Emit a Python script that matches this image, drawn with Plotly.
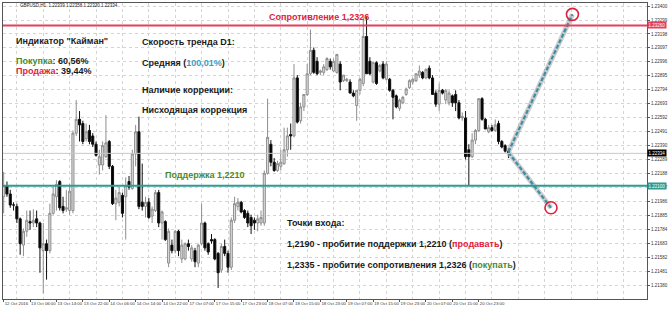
import plotly.graph_objects as go

# ---------------- data ----------------
opens = [1.2202,1.2210,1.2204,1.2196,1.2195,1.2186,1.2167,1.2177,1.2184,1.2183,
         1.2186,1.2183,1.2163,1.2168,1.2163,1.2190,1.2202,1.2213,1.2195,1.2193,
         1.2192,1.2192,1.2248,1.2258,1.2255,1.2244,1.2250,1.2246,1.2240,1.2225,
         1.2225,1.2231,1.2242,1.2224,1.2197,1.2198,1.2203,1.2202,1.2213,1.2208,
         1.2233,1.2249,1.2198,1.2195,1.2198,1.2188,1.2192,1.2205,1.2183,1.2184,
         1.2154,1.2167,1.2163,1.2177,1.2157,1.2157,1.2168,1.2157,1.2163,1.2154,
         1.2168,1.2183,1.2168,1.2171,1.2171,1.2161,1.2149,1.2166,1.2161,1.2151,
         1.2185,1.2195,1.2198,1.2192,1.2190,1.2187,1.2185,1.2183,1.2183,1.2183,
         1.2219,1.2240,1.2227,1.2221,1.2224,1.2226,1.2236,1.2247,1.2246,1.2288,
         1.2257,1.2267,1.2276,1.2291,1.2308,1.2300,1.2292,1.2292,1.2294,1.2300,
         1.2293,1.2292,1.2298,1.2286,1.2286,1.2285,1.2277,1.2268,1.2279,1.2284,
         1.2318,1.2300,1.2285,1.2299,1.2293,1.2298,1.2287,1.2287,1.2279,1.2275,
         1.2266,1.2270,1.2276,1.2281,1.2285,1.2286,1.2290,1.2292,1.2288,1.2295,
         1.2288,1.2277,1.2269,1.2279,1.2272,1.2270,1.2275,1.2276,1.2270,1.2259,
         1.2259,1.2236,1.2231,1.2243,1.2250,1.2273,1.2258,1.2249,1.2252,1.2250,
         1.2255,1.2242,1.2239,1.2235]
highs = [1.2220,1.2213,1.2207,1.2198,1.2197,1.2187,1.2179,1.2192,1.2192,1.2193,
         1.2192,1.2184,1.2183,1.2171,1.2197,1.2209,1.2214,1.2214,1.2202,1.2207,
         1.2211,1.2250,1.2272,1.2264,1.2257,1.2255,1.2254,1.2248,1.2242,1.2236,
         1.2242,1.2261,1.2243,1.2225,1.2207,1.2209,1.2205,1.2216,1.2217,1.2236,
         1.2254,1.2260,1.2226,1.2202,1.2201,1.2195,1.2207,1.2207,1.2192,1.2185,
         1.2179,1.2171,1.2178,1.2178,1.2171,1.2169,1.2171,1.2167,1.2165,1.2168,
         1.2197,1.2184,1.2169,1.2175,1.2172,1.2162,1.2168,1.2171,1.2163,1.2187,
         1.2202,1.2201,1.2199,1.2193,1.2192,1.2189,1.2187,1.2189,1.2192,1.2221,
         1.2273,1.2243,1.2230,1.2228,1.2236,1.2252,1.2252,1.2255,1.2298,1.2290,
         1.2270,1.2276,1.2298,1.2323,1.2310,1.2303,1.2294,1.2298,1.2303,1.2302,
         1.2302,1.2305,1.2300,1.2290,1.2288,1.2287,1.2279,1.2279,1.2288,1.2332,
         1.2332,1.2303,1.2300,1.2300,1.2298,1.2300,1.2300,1.2288,1.2280,1.2276,
         1.2273,1.2275,1.2281,1.2287,1.2288,1.2291,1.2297,1.2293,1.2295,1.2297,
         1.2290,1.2279,1.2284,1.2280,1.2280,1.2279,1.2276,1.2279,1.2272,1.2263,
         1.2264,1.2240,1.2248,1.2251,1.2273,1.2274,1.2259,1.2254,1.2254,1.2258,
         1.2257,1.2243,1.2240,1.2237]
lows = [1.2190,1.2202,1.2194,1.2192,1.2183,1.2160,1.2159,1.2173,1.2178,1.2180,
        1.2180,1.2147,1.2132,1.2142,1.2161,1.2189,1.2192,1.2192,1.2190,1.2191,
        1.2189,1.2190,1.2246,1.2242,1.2240,1.2242,1.2240,1.2238,1.2231,1.2218,
        1.2221,1.2230,1.2222,1.2196,1.2185,1.2195,1.2187,1.2171,1.2207,1.2207,
        1.2224,1.2193,1.2192,1.2187,1.2186,1.2183,1.2191,1.2180,1.2171,1.2170,
        1.2151,1.2161,1.2161,1.2159,1.2154,1.2156,1.2163,1.2155,1.2151,1.2151,
        1.2167,1.2163,1.2160,1.2168,1.2156,1.2136,1.2147,1.2159,1.2147,1.2149,
        1.2183,1.2192,1.2190,1.2186,1.2180,1.2175,1.2178,1.2177,1.2181,1.2181,
        1.2218,1.2224,1.2220,1.2220,1.2221,1.2225,1.2231,1.2236,1.2245,1.2255,
        1.2255,1.2264,1.2275,1.2290,1.2291,1.2290,1.2290,1.2290,1.2293,1.2294,
        1.2292,1.2291,1.2279,1.2285,1.2285,1.2277,1.2274,1.2257,1.2276,1.2282,
        1.2291,1.2290,1.2284,1.2283,1.2292,1.2287,1.2286,1.2278,1.2258,1.2266,
        1.2264,1.2269,1.2275,1.2280,1.2283,1.2285,1.2288,1.2287,1.2287,1.2287,
        1.2276,1.2267,1.2264,1.2276,1.2269,1.2268,1.2267,1.2264,1.2258,1.2257,
        1.2229,1.2210,1.2230,1.2240,1.2249,1.2257,1.2251,1.2248,1.2249,1.2249,
        1.2240,1.2237,1.2234,1.2230]
closes = [1.2210,1.2204,1.2196,1.2196,1.2186,1.2168,1.2177,1.2185,1.2183,1.2185,
          1.2183,1.2165,1.2168,1.2163,1.2190,1.2204,1.2211,1.2194,1.2192,1.2194,
          1.2206,1.2248,1.2258,1.2254,1.2242,1.2249,1.2242,1.2240,1.2232,1.2231,
          1.2239,1.2241,1.2224,1.2197,1.2201,1.2205,1.2190,1.2210,1.2209,1.2233,
          1.2249,1.2195,1.2195,1.2198,1.2187,1.2193,1.2205,1.2183,1.2191,1.2171,
          1.2177,1.2163,1.2177,1.2163,1.2167,1.2168,1.2166,1.2165,1.2155,1.2167,
          1.2183,1.2165,1.2162,1.2170,1.2157,1.2147,1.2166,1.2161,1.2151,1.2185,
          1.2197,1.2198,1.2191,1.2187,1.2183,1.2181,1.2183,1.2186,1.2187,1.2219,
          1.2245,1.2227,1.2221,1.2226,1.2227,1.2236,1.2246,1.2246,1.2288,1.2256,
          1.2267,1.2276,1.2291,1.2308,1.2292,1.2291,1.2293,1.2296,1.2302,1.2296,
          1.2300,1.2305,1.2285,1.2290,1.2287,1.2277,1.2275,1.2279,1.2287,1.2318,
          1.2291,1.2291,1.2299,1.2284,1.2297,1.2288,1.2298,1.2279,1.2274,1.2267,
          1.2272,1.2274,1.2280,1.2286,1.2287,1.2291,1.2293,1.2288,1.2294,1.2288,
          1.2276,1.2269,1.2279,1.2277,1.2279,1.2277,1.2270,1.2270,1.2259,1.2260,
          1.2231,1.2231,1.2243,1.2250,1.2273,1.2258,1.2251,1.2252,1.2250,1.2254,
          1.2242,1.2238,1.2235,1.2234]

time_labels = ["12 Oct 2016", "13 Oct 06:00", "13 Oct 14:00", "13 Oct 22:00",
               "14 Oct 06:00", "14 Oct 14:00", "14 Oct 22:00", "17 Oct 07:00",
               "17 Oct 15:00", "17 Oct 23:00", "18 Oct 07:00", "18 Oct 15:00",
               "18 Oct 23:00", "19 Oct 07:00", "19 Oct 15:00", "19 Oct 23:00",
               "20 Oct 07:00", "20 Oct 15:00", "20 Oct 23:00"]
bars_per_label = 8

price_labels = ["1.23400", "1.23299", "1.23198", "1.23097", "1.22996", "1.22895",
                "1.22794", "1.22693", "1.22592", "1.22491", "1.22390", "1.22289",
                "1.22188", "1.22087", "1.21986", "1.21885", "1.21784", "1.21683",
                "1.21582", "1.21481", "1.21380"]

resistance = 1.2326
support = 1.2210
last_price = 1.22334
target_up = 1.2334
target_down = 1.2194
target_up_bar = 172.4
target_down_bar = 165.9

header = "GBPUSD,H1  1.22339 1.22358 1.22320 1.22334"

# ---------------- figure ----------------
W, H = 670, 310
L, R, T, B = 2, 18, 2, 11
PW, PH = W - L - R, H - T - B

def px(xp):
    return (xp - L) / PW

def py(yp):
    return (H - B - yp) / PH

n = len(opens)
bars = list(range(n))

GREEN = "#4b8a2b"
RED = "#e0203c"
TEAL_TXT = "#3b9cc0"
DARK = "#1a1a1a"
FONT = "Liberation Sans, Arial, sans-serif"

fig = go.Figure()

# arrow shadows
fig.add_trace(go.Scatter(x=[bars[-1], target_up_bar], y=[closes[-1] + 0.00005, target_up],
                         mode="lines", line=dict(color="rgba(170,170,170,0.6)", width=5),
                         hoverinfo="skip", showlegend=False))
fig.add_trace(go.Scatter(x=[bars[-1], target_down_bar], y=[closes[-1], target_down],
                         mode="lines", line=dict(color="rgba(170,170,170,0.6)", width=5),
                         hoverinfo="skip", showlegend=False))

fig.add_trace(go.Candlestick(
    x=bars, open=opens, high=highs, low=lows, close=closes,
    increasing=dict(line=dict(color="#8e8e8e", width=1), fillcolor="#dedede"),
    decreasing=dict(line=dict(color="#111111", width=1), fillcolor="#000000"),
    whiskerwidth=0, showlegend=False, hoverinfo="skip"))

# arrows
fig.add_trace(go.Scatter(x=[bars[-1], target_up_bar], y=[closes[-1] + 0.00005, target_up],
                         mode="lines", line=dict(color="#3a8fa6", width=2.2, dash="4px,2px"),
                         hoverinfo="skip", showlegend=False))
fig.add_trace(go.Scatter(x=[bars[-1], target_down_bar], y=[closes[-1], target_down],
                         mode="lines", line=dict(color="#3a8fa6", width=2.2, dash="4px,2px"),
                         hoverinfo="skip", showlegend=False))
fig.add_trace(go.Scatter(x=[target_up_bar, target_down_bar], y=[target_up, target_down],
                         mode="markers",
                         marker=dict(symbol="circle-open", size=12, color=RED,
                                     line=dict(width=1.6, color=RED)),
                         hoverinfo="skip", showlegend=False, cliponaxis=False))

# horizontal levels
fig.add_hline(y=last_price, line=dict(color="#c8c8c8", width=1))
fig.add_hline(y=resistance, line=dict(color="#e3405a", width=2))
fig.add_hline(y=support, line=dict(color="#2e9a92", width=2))

ann = []
def text(xp, yp, s, size=9, color=DARK, bold=True, xanchor="left"):
    ann.append(dict(x=px(xp), y=py(yp), xref="paper", yref="paper",
                    text=("<b>%s</b>" % s) if bold else s, showarrow=False,
                    xanchor=xanchor, yanchor="middle",
                    font=dict(family=FONT, size=size, color=color)))

text(17, 5, header, size=4.5, bold=False, color="#222")
text(13, 40, 'Индикатор "Кайман"')
text(13, 60, '<span style="color:%s">Покупка</span>: 60,56%%' % GREEN)
text(13, 70, '<span style="color:%s">Продажа</span>: 39,44%%' % RED)
text(140, 41, "Скорость тренда D1:")
text(140, 62, 'Средняя (<span style="color:%s">100,01%%</span>)' % TEAL_TXT)
text(140, 89, "Наличие коррекции:")
text(140, 109, "Нисходящая коррекция")
text(268, 16, "Сопротивление 1,2326", color=RED)
text(163, 175, "Поддержка 1,2210", color=GREEN)
text(287, 223, "Точки входа:")
text(287, 244, '1,2190 - пробитие поддержки 1,2210 (<span style="color:%s">продавать</span>)' % RED)
text(287, 265, '1,2335 - пробитие сопротивления 1,2326 (<span style="color:%s">покупать</span>)' % GREEN)

# price tags on the right axis
for val, bg in [(resistance, "#e3405a"), (last_price, "#000000"), (support, "#2e9a92")]:
    ann.append(dict(x=1.0, y=val, xref="paper", yref="y", text="%.5f" % val,
                    showarrow=False, xanchor="left", yanchor="middle",
                    bgcolor=bg, borderpad=0.5,
                    font=dict(family=FONT, size=4.5, color="white")))

tickvals_x = [i * bars_per_label for i in range(len(time_labels))]

fig.update_layout(
    width=W, height=H, margin=dict(l=L, r=R, t=T, b=B),
    paper_bgcolor="white", plot_bgcolor="white",
    annotations=ann, showlegend=False, boxgap=0.1,
    xaxis=dict(range=[-0.2, 195.0], rangeslider=dict(visible=False),
               tickmode="array", tickvals=tickvals_x, ticktext=time_labels,
               ticklabelposition="outside right", tickangle=0,
               tickfont=dict(family=FONT, size=4.3, color="#333"),
               ticks="outside", ticklen=2, tickcolor="#555",
               showgrid=False,
               minor=dict(tickvals=[v + 4 for v in tickvals_x] + [156, 164, 172, 180, 188],
                          showgrid=True, gridcolor="#d4d4d4", griddash="dot", gridwidth=1),
               showline=True, linecolor="#555", linewidth=1, mirror=True, zeroline=False,
               fixedrange=True),
    yaxis=dict(range=[1.21280, 1.23422], side="right",
               tickmode="array", tickvals=[float(v) for v in price_labels], ticktext=price_labels,
               tickfont=dict(family=FONT, size=4.5, color="#333"),
               ticks="outside", ticklen=2, tickcolor="#555",
               showgrid=True, gridcolor="#d4d4d4", griddash="dot", gridwidth=1,
               showline=True, linecolor="#555", linewidth=1, mirror=True, zeroline=False,
               fixedrange=True),
)

fig.write_html("out.html", config={"displayModeBar": False, "staticPlot": True})
